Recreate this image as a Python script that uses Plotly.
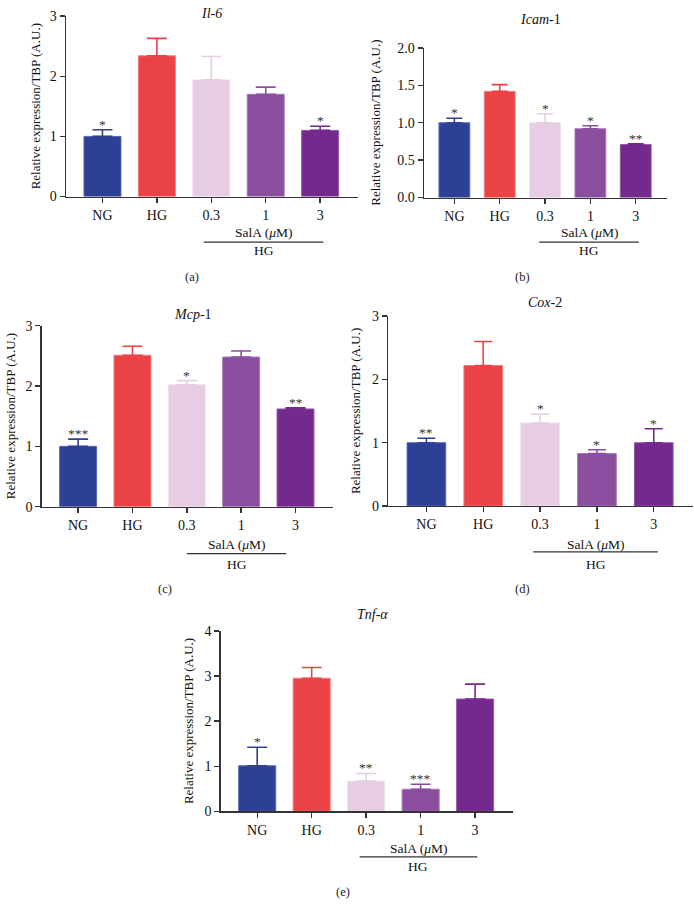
import plotly.graph_objects as go

# ---------------- data ----------------
categories = ["NG", "HG", "0.3", "1", "3"]

il6_mean = [1.00, 2.34, 1.94, 1.70, 1.10]
il6_err = [0.11, 0.29, 0.39, 0.12, 0.07]
il6_sig = ["*", "", "", "", "*"]

icam_mean = [1.00, 1.42, 1.00, 0.92, 0.71]
icam_err = [0.06, 0.09, 0.12, 0.04, 0.01]
icam_sig = ["*", "", "*", "*", "**"]

mcp_mean = [1.00, 2.51, 2.02, 2.48, 1.62]
mcp_err = [0.12, 0.15, 0.07, 0.10, 0.02]
mcp_sig = ["***", "", "*", "", "**"]

cox_mean = [1.00, 2.22, 1.31, 0.83, 1.00]
cox_err = [0.07, 0.38, 0.14, 0.06, 0.22]
cox_sig = ["**", "", "*", "*", "*"]

tnf_mean = [1.01, 2.95, 0.67, 0.49, 2.49]
tnf_err = [0.41, 0.24, 0.17, 0.11, 0.33]
tnf_sig = ["*", "", "**", "***", ""]

bar_colors = ["#2E3F96", "#EB4246", "#E6CDE3", "#8B4D9E", "#74298C"]
edge_colors = ["#5B68B0", "#F27A7C", "#F0E0EE", "#A879B6", "#9559A9"]

W, H = 694, 917
FONT = "Liberation Serif"
AX = "#333333"


def px(x):
    return x / W


def py(y):
    return 1 - y / H


panels = [
    dict(title="<i>Il-6</i>", mean=il6_mean, err=il6_err, sig=il6_sig,
         x0=66, x1=357.7, ytop=9.3, ybot=192.7, ymax=3, dtick=1, fmt="d", cap=10,
         title_xy=(212, 7), label="(a)", label_xy=(192, 274),
         ylab_x=35, line=(1.86, 4.06), line_y=239, sala_y=229, hg_y=248),
    dict(title="<i>Icam</i>-1", mean=icam_mean, err=icam_err, sig=icam_sig,
         x0=424, x1=667, ytop=41.7, ybot=193.7, ymax=2, dtick=0.5, fmt=".1f", cap=8,
         title_xy=(540, 13), label="(b)", label_xy=(522, 274),
         ylab_x=376, line=(1.87, 4.07), line_y=239, sala_y=229, hg_y=248),
    dict(title="<i>Mcp</i>-1", mean=mcp_mean, err=mcp_err, sig=mcp_sig,
         x0=41.7, x1=333, ytop=324, ybot=508, ymax=3, dtick=1, fmt="d", cap=10,
         title_xy=(193, 313), label="(c)", label_xy=(165, 592),
         ylab_x=10, line=(2.0, 3.83), line_y=555.7, sala_y=546, hg_y=567),
    dict(title="<i>Cox</i>-2", mean=cox_mean, err=cox_err, sig=cox_sig,
         x0=388.3, x1=693, ytop=314.3, ybot=507.3, ymax=3, dtick=1, fmt="d", cap=9,
         title_xy=(545, 300), label="(d)", label_xy=(522, 592),
         ylab_x=355, line=(1.88, 4.07), line_y=554, sala_y=546, hg_y=567),
    dict(title="<i>Tnf-α</i>", mean=tnf_mean, err=tnf_err, sig=tnf_sig,
         x0=220.7, x1=512.7, ytop=634.3, ybot=817.7, ymax=4, dtick=1, fmt="d", cap=10,
         title_xy=(372, 618), label="(e)", label_xy=(343, 900),
         ylab_x=188, line=(1.88, 4.04), line_y=864, sala_y=855, hg_y=874),
]

fig = go.Figure()
annotations = []
shapes = []
xpos = list(range(len(categories)))

for i, p in enumerate(panels):
    n = "" if i == 0 else str(i + 1)
    xa, ya = "x" + n, "y" + n
    fig.add_trace(go.Bar(
        x=xpos, y=p["mean"], xaxis=xa, yaxis=ya, width=0.68,
        marker=dict(color=bar_colors, line=dict(color=edge_colors, width=1)),
        showlegend=False,
    ))
    # error bars (upward only), each coloured like its bar
    for j in range(len(categories)):
        fig.add_trace(go.Scatter(
            x=[xpos[j]], y=[p["mean"][j]], xaxis=xa, yaxis=ya, mode="markers",
            marker=dict(size=0.1, color=bar_colors[j], opacity=0),
            error_y=dict(type="data", symmetric=False, array=[p["err"][j]], arrayminus=[0],
                         color=bar_colors[j], thickness=1.6, width=p["cap"]),
            showlegend=False, hoverinfo="skip",
        ))
        if p["sig"][j]:
            annotations.append(dict(
                x=xpos[j], y=p["mean"][j] + p["err"][j], xref=xa, yref=ya,
                text=p["sig"][j], showarrow=False, yanchor="bottom", yshift=-4,
                font=dict(family=FONT, size=13.5, color="#333"),
            ))
    axkey = "xaxis" + n
    aykey = "yaxis" + n
    fig.update_layout(**{
        axkey: dict(domain=[px(p["x0"]), px(p["x1"])], anchor=ya, range=[-0.67, 4.69],
                    tickvals=xpos, ticktext=categories, showline=True, linecolor=AX,
                    linewidth=1.4, ticks="outside", ticklen=5, tickcolor=AX, tickwidth=1.4,
                    showgrid=False, zeroline=False,
                    tickfont=dict(family=FONT, size=14, color="#111")),
        aykey: dict(domain=[py(p["ybot"]), py(p["ytop"])], anchor=xa, range=[0, p["ymax"]],
                    dtick=p["dtick"], tick0=0, tickformat=p["fmt"], showline=True,
                    linecolor=AX, linewidth=1.4, ticks="outside", ticklen=5, tickcolor=AX,
                    tickwidth=1.4, showgrid=False, zeroline=False,
                    tickfont=dict(family=FONT, size=14, color="#111")),
    })
    # gene title
    annotations.append(dict(x=px(p["title_xy"][0]), y=py(p["title_xy"][1]), xref="paper", yref="paper",
                            text=p["title"], showarrow=False, xanchor="center", yanchor="middle",
                            font=dict(family=FONT, size=14, color="#111")))
    # panel label
    annotations.append(dict(x=px(p["label_xy"][0]), y=py(p["label_xy"][1]), xref="paper", yref="paper",
                            text=p["label"], showarrow=False, xanchor="center", yanchor="middle",
                            font=dict(family=FONT, size=12.5, color="#222")))
    # y axis label
    annotations.append(dict(x=px(p["ylab_x"]), y=py((p["ytop"] + p["ybot"]) / 2), xref="paper", yref="paper",
                            text="Relative expression/TBP (A.U.)", textangle=-90, showarrow=False,
                            xanchor="center", yanchor="middle",
                            font=dict(family=FONT, size=13, color="#111")))
    # SalA / HG bracket
    lx0, lx1 = p["line"]
    shapes.append(dict(type="line", xref=xa, yref="paper", x0=lx0, x1=lx1,
                       y0=py(p["line_y"]), y1=py(p["line_y"]), line=dict(color=AX, width=1.3)))
    annotations.append(dict(x=(lx0 + lx1) / 2, y=py(p["sala_y"]), xref=xa, yref="paper",
                            text="SalA (<i>μ</i>M)", showarrow=False, xanchor="center", yanchor="middle",
                            font=dict(family=FONT, size=13.5, color="#111")))
    annotations.append(dict(x=(lx0 + lx1) / 2, y=py(p["hg_y"]), xref=xa, yref="paper",
                            text="HG", showarrow=False, xanchor="center", yanchor="middle",
                            font=dict(family=FONT, size=13.5, color="#111")))

fig.update_layout(
    width=W, height=H, margin=dict(l=0, r=0, t=0, b=0),
    paper_bgcolor="white", plot_bgcolor="white",
    annotations=annotations, shapes=shapes, bargap=0,
)

fig.write_html("out.html",
               config={"displayModeBar": False, "staticPlot": True},
               post_script="document.body.style.margin='0px';document.body.style.overflow='hidden';")
